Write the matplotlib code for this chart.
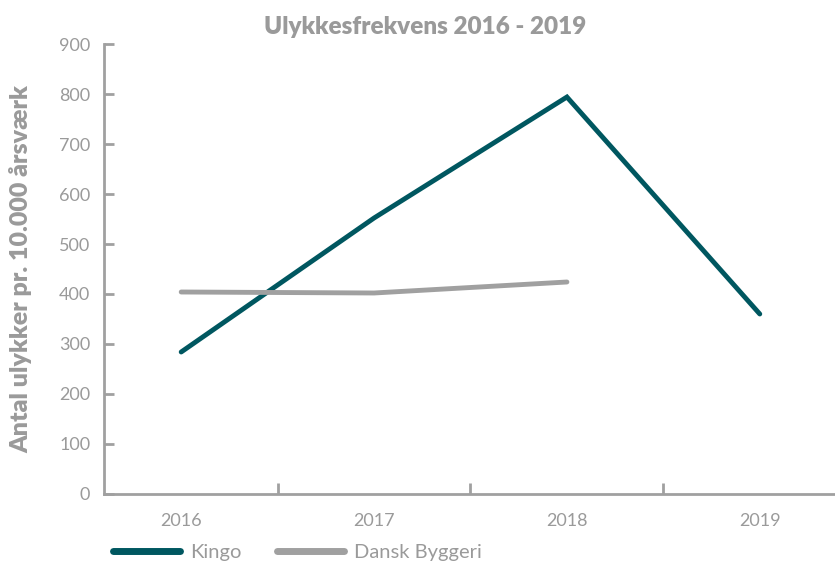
import numpy as np
import matplotlib.pyplot as plt
from matplotlib.ticker import FixedLocator

years = ["2016", "2017", "2018", "2019"]
kingo = [284, 552, 794, 360]
dansk_byggeri = [404, 402, 424]
y_ticks = [0, 100, 200, 300, 400, 500, 600, 700, 800, 900]

teal = "#005760"
grey = "#a0a0a0"
txt = "#9a9a9a"

plt.rcParams['font.family'] = ['Lato', 'DejaVu Sans']

fig = plt.figure(figsize=(8.35, 5.63), dpi=100)
ax = fig.add_axes([0.1246, 0.1226, 0.8754, 0.7992])

x = np.arange(len(years))
ax.plot(x, kingo, color=teal, lw=3.5, solid_capstyle='round',
        solid_joinstyle='miter', label="Kingo")
ax.plot(x[:len(dansk_byggeri)], dansk_byggeri, color=grey, lw=3.5,
        solid_capstyle='round', label="Dansk Byggeri")

ax.set_xlim(-0.4, 3.39)
ax.set_ylim(0, 900)
ax.set_yticks(y_ticks)
ax.set_xticks(x)
ax.set_xticklabels(years)
ax.xaxis.set_minor_locator(FixedLocator([0.5, 1.5, 2.5]))

for s in ["top", "right"]:
    ax.spines[s].set_visible(False)
for s in ["left", "bottom"]:
    ax.spines[s].set_color(grey)
    ax.spines[s].set_linewidth(2)

ax.tick_params(axis='y', colors=grey, labelcolor=txt, labelsize=13,
               length=7, width=2, direction='in', pad=10)
ax.tick_params(axis='x', which='major', length=0, labelcolor=txt,
               labelsize=13, pad=14)
ax.tick_params(axis='x', which='minor', colors=grey, length=8, width=2,
               direction='in')

ax.set_ylabel("Antal ulykker pr. 10.000 årsværk", color=txt, fontsize=18,
              fontweight='heavy', labelpad=19)
fig.text(0.509, 0.952, "Ulykkesfrekvens 2016 - 2019", color=txt,
         fontsize=17.5, fontweight='heavy', ha='center', va='center')

leg = ax.legend(loc='center left', bbox_to_anchor=(-0.013, -0.131), ncol=2,
                frameon=False, fontsize=14.5, handlelength=3.35,
                handletextpad=0.5, columnspacing=1.75)
for t in leg.get_texts():
    t.set_color(txt)
for h in leg.get_lines():
    h.set_linewidth(5)

fig.savefig("out.png", dpi=100)
